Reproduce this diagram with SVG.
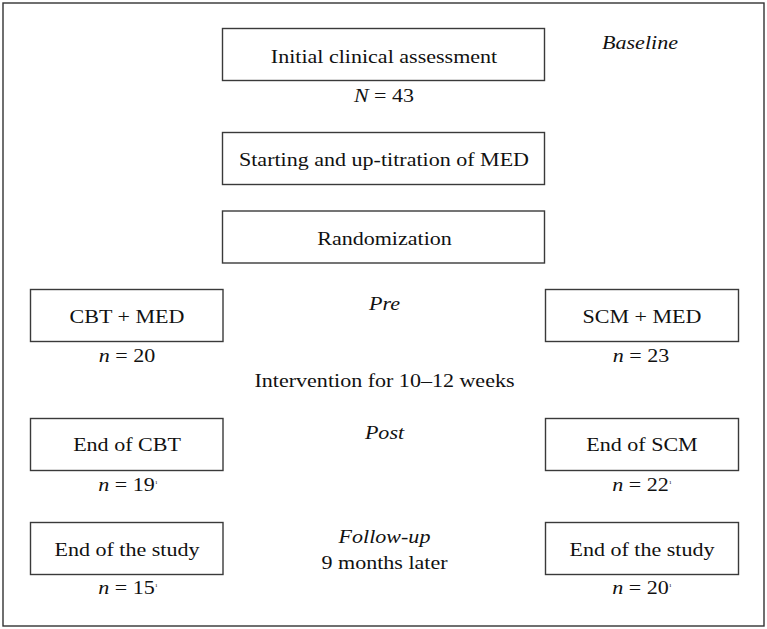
<svg xmlns="http://www.w3.org/2000/svg" width="767" height="629" viewBox="0 0 767 629">
<style>
.bx{fill:#fff;stroke:#3a3a3a;stroke-width:1.4}
text{font-family:"Liberation Serif","Times New Roman",serif;font-size:18px;fill:#111;text-anchor:middle}
.it{font-style:italic}
.sup{font-size:5px;font-style:normal}
</style>
<rect x="0" y="0" width="767" height="629" fill="#fff"/>
<rect x="3" y="3" width="761" height="623" fill="none" stroke="#333" stroke-width="1.4"/>
<g id="connectors"></g>
<g id="n-initial"><rect class="bx" x="222.5" y="28.5" width="322" height="52"/><text transform="translate(384,62.7) scale(1.225,1)">Initial clinical assessment</text></g>
<text transform="translate(384,101.7) scale(1.225,1)"><tspan class="it">N</tspan> = 43</text>
<text class="it" transform="translate(640,49.3) scale(1.225,1)">Baseline</text>
<g id="n-start"><rect class="bx" x="222.5" y="132.5" width="322" height="52"/><text transform="translate(384,166) scale(1.225,1)">Starting and up-titration of MED</text></g>
<g id="n-rand"><rect class="bx" x="222.5" y="211" width="322" height="52"/><text transform="translate(384.5,244.5) scale(1.225,1)">Randomization</text></g>
<g id="n-cbt"><rect class="bx" x="30.5" y="289.5" width="192.5" height="52"/><text transform="translate(127,322.7) scale(1.225,1)">CBT + MED</text></g>
<g id="n-scm"><rect class="bx" x="545.5" y="289.5" width="193" height="52"/><text transform="translate(642,322.7) scale(1.225,1)">SCM + MED</text></g>
<text class="it" transform="translate(384.5,310) scale(1.225,1)">Pre</text>
<text transform="translate(127,361.7) scale(1.225,1)"><tspan class="it">n</tspan> = 20</text>
<text transform="translate(641,361.7) scale(1.225,1)"><tspan class="it">n</tspan> = 23</text>
<text transform="translate(384.5,386.7) scale(1.225,1)">Intervention for 10–12 weeks</text>
<g id="n-endcbt"><rect class="bx" x="30.5" y="418.5" width="192.5" height="52"/><text transform="translate(127,451) scale(1.225,1)">End of CBT</text></g>
<g id="n-endscm"><rect class="bx" x="545.5" y="418.5" width="193" height="52"/><text transform="translate(642,451) scale(1.225,1)">End of SCM</text></g>
<text class="it" transform="translate(384.5,439) scale(1.225,1)">Post</text>
<text transform="translate(128,491) scale(1.225,1)"><tspan class="it">n</tspan> = 19<tspan class="sup" dy="-7">1</tspan></text>
<text transform="translate(642,491) scale(1.225,1)"><tspan class="it">n</tspan> = 22<tspan class="sup" dy="-7">1</tspan></text>
<g id="n-study1"><rect class="bx" x="30.5" y="522.5" width="192.5" height="52"/><text transform="translate(127,556) scale(1.225,1)">End of the study</text></g>
<g id="n-study2"><rect class="bx" x="545.5" y="522.5" width="193" height="52"/><text transform="translate(642,556) scale(1.225,1)">End of the study</text></g>
<text class="it" transform="translate(384.5,543.3) scale(1.225,1)">Follow-up</text>
<text transform="translate(384.5,569) scale(1.225,1)">9 months later</text>
<text transform="translate(128,594) scale(1.225,1)"><tspan class="it">n</tspan> = 15<tspan class="sup" dy="-7">1</tspan></text>
<text transform="translate(642,594) scale(1.225,1)"><tspan class="it">n</tspan> = 20<tspan class="sup" dy="-7">1</tspan></text>
</svg>
